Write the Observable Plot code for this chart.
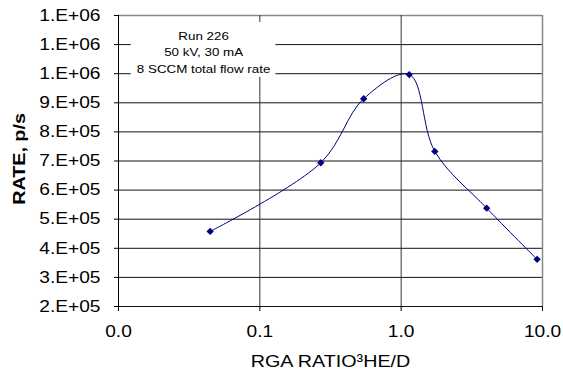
<!DOCTYPE html>
<html>
<head>
<meta charset="utf-8">
<script src="https://cdn.jsdelivr.net/npm/d3@7"></script>
<script src="https://cdn.jsdelivr.net/npm/@observablehq/plot@0.6"></script>
<style>
  html, body { margin: 0; padding: 0; background: #fff; }
  #chart { width: 563px; height: 375px; }
</style>
</head>
<body>
<div id="chart"></div>
<script>
// Data
const ratio = [0.0445, 0.27, 0.543, 1.14, 1.73, 4.03, 9.16];
const rate  = [458000, 694000, 914000, 997000, 733000, 538000, 362000];

const xTicks = [0.01, 0.1, 1, 10];
const xTickLabels = ["0.0", "0.1", "1.0", "10.0"];
const yTicks = [200000, 300000, 400000, 500000, 600000, 700000, 800000, 900000, 1000000, 1100000, 1200000];
const yTickLabels = ["2.E+05", "3.E+05", "4.E+05", "5.E+05", "6.E+05", "7.E+05", "8.E+05", "9.E+05", "1.E+06", "1.E+06", "1.E+06"];

const xLabel = "RGA RATIO\u00B3HE/D";
const yLabel = "RATE, p/s";
const noteLines = ["Run 226", "50 kV, 30 mA", "8 SCCM total flow rate"];
// annotation box extent, in data units
const noteBoxX = [0.0123, 0.13];
const noteBoxY = [987000, 1176000];
const noteAt = {x: 0.04, y: 1078000};

const data = ratio.map((r, i) => ({ratio: r, rate: rate[i]}));
const navy = "#000080";
const font = "'Liberation Sans', Arial, Helvetica, sans-serif";

const chart = Plot.plot({
  width: 563,
  height: 375,
  marginLeft: 118,
  marginRight: 21,
  marginTop: 15,
  marginBottom: 69,
  style: {fontFamily: font, color: "#000", background: "#fff"},
  x: {type: "log", domain: [0.01, 10]},
  y: {domain: [200000, 1200000]},
  marks: [
    Plot.ruleY(yTicks.slice(0, -1), {y: d => d, stroke: "#111", strokeWidth: 1}),
    Plot.ruleY([yTicks[yTicks.length - 1]], {stroke: "#888", strokeWidth: 1.5}),
    Plot.ruleX(xTicks.slice(1, -1), {stroke: "#333", strokeWidth: 1}),
    Plot.ruleX([xTicks[xTicks.length - 1]], {stroke: "#888", strokeWidth: 1.5}),
    Plot.rect([0], {x1: () => noteBoxX[0], x2: () => noteBoxX[1], y1: () => noteBoxY[0], y2: () => noteBoxY[1], fill: "#fff"}),
    Plot.ruleX([xTicks[0]], {stroke: "#000"}),
    Plot.axisY({
      ticks: yTicks,
      tickFormat: d => yTickLabels[yTicks.indexOf(d)],
      tickSize: 4, tickPadding: 14, fontSize: 16.5, label: null, stroke: "#000"
    }),
    Plot.axisX({
      ticks: xTicks,
      tickFormat: d => xTickLabels[xTicks.indexOf(d)],
      tickSize: 5, tickPadding: 14, fontSize: 16.5, label: null, stroke: "#000"
    }),
    Plot.line(data, {x: "ratio", y: "rate", curve: "catmull-rom", stroke: navy, strokeWidth: 1}),
    Plot.dot(data, {x: "ratio", y: "rate", symbol: "diamond2", r: 3.3, fill: navy, stroke: null}),
    Plot.text([noteLines.join("\n")], {x: () => noteAt.x, y: () => noteAt.y, fontSize: 11.5, lineHeight: 1.45, textAnchor: "middle", fill: "#000"}),
    Plot.text([xLabel], {frameAnchor: "bottom", dy: 60, fontSize: 17, textAnchor: "middle", fill: "#000"}),
    Plot.text([yLabel], {frameAnchor: "left", dx: -98.5, dy: -2, rotate: -90, textAnchor: "middle", lineAnchor: "middle", fontSize: 17, fontWeight: "bold", fill: "#000"})
  ]
});

document.getElementById("chart").appendChild(chart);

// The reference's lettering is horizontally widened; stretch glyphs along the baseline.
const k = 1.16;
chart.querySelectorAll("text").forEach(t => {
  const spans = t.querySelectorAll("tspan");
  const targets = spans.length ? Array.from(spans) : [t];
  targets.forEach(el => {
    const len = el.getComputedTextLength();
    if (len > 0) {
      el.setAttribute("textLength", (len * k).toFixed(2));
      el.setAttribute("lengthAdjust", "spacingAndGlyphs");
    }
  });
});
</script>
</body>
</html>
